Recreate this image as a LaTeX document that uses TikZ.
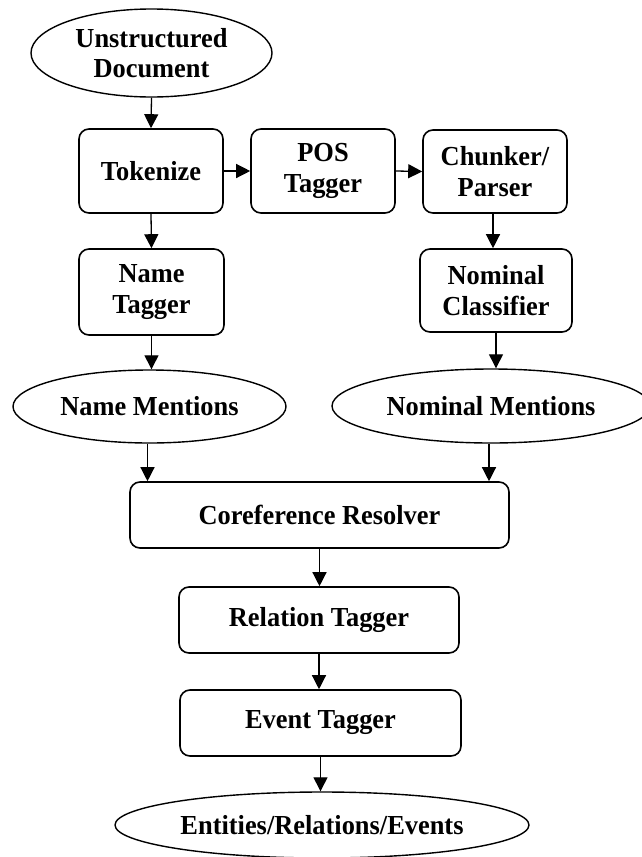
\documentclass[tikz,border=0pt]{standalone}
\usepackage{fontspec}
\setmainfont[FakeStretch=0.96]{Liberation Serif}
\usetikzlibrary{shapes.geometric,arrows.meta}
\begin{document}
\begin{tikzpicture}[x=1pt,y=-1pt,
  every node/.style={font=\fontsize{27.5}{30.5}\selectfont\bfseries, align=center, inner sep=0pt},
  procbox/.style={draw, line width=1.6pt, rounded corners=10pt},
  dataell/.style={draw, ellipse, line width=1.4pt},
  flow/.style={draw, line width=1.3pt, -{Triangle[length=14pt,width=14pt]}}]
\useasboundingbox (0,0) rectangle (642,857);
\fill[white] (0,0) rectangle (642,857);
\node[dataell, minimum width=241pt, minimum height=88pt] (ud) at (151.5,53) {Unstructured\\Document};
\node[procbox, minimum width=144pt, minimum height=84pt] (tok) at (151,171) {Tokenize};
\node[procbox, minimum width=144pt, minimum height=84pt] (pos) at (323,171) {POS\\Tagger};
\node[procbox, minimum width=144pt, minimum height=83pt] (ch) at (495,171.5) {Chunker/\\Parser};
\node[procbox, minimum width=145pt, minimum height=86pt] (nt) at (151.5,292) {Name\\Tagger};
\node[procbox, minimum width=152pt, minimum height=83pt] (nc) at (496,290.5) {Nominal\\Classifier};
\node[dataell, minimum width=273pt, minimum height=73pt] (nm) at (149.5,406.5) {Name Mentions};
\node[dataell, minimum width=318pt, minimum height=74pt] (nom) at (491,406) {Nominal Mentions};
\node[procbox, minimum width=379pt, minimum height=66pt] (cr) at (319.5,515) {Coreference Resolver};
\node[procbox, minimum width=280pt, minimum height=66pt] (rt) at (319,620) {Relation Tagger};
\node[procbox, minimum width=281pt, minimum height=66pt] (et) at (320.5,723) {Event Tagger};
\node[dataell, minimum width=414pt, minimum height=66pt] (ent) at (322,825) {Entities/Relations/Events};
\draw[flow] (ud.south) -- (tok.north);
\draw[flow] (tok.east) -- (pos.west);
\draw[flow] (pos.east) -- (ch.west);
\draw[flow] (tok.south) -- (nt.north);
\draw[flow] ([xshift=-2pt]ch.south) -- ([xshift=-2pt]ch.south |- nc.north);
\draw[flow] (nt.south) -- (nt.south |- nm.north);
\draw[flow] (nc.south) -- (nc.south |- nom.north);
\draw[flow] ([xshift=-2pt]nm.south) -- ([xshift=-2pt]nm.south |- cr.north);
\draw[flow] ([xshift=-2pt]nom.south) -- ([xshift=-2pt]nom.south |- cr.north);
\draw[flow] (cr.south) -- (cr.south |- rt.north);
\draw[flow] (rt.south) -- (rt.south |- et.north);
\draw[flow] (et.south) -- (et.south |- ent.north);
\end{tikzpicture}
\end{document}
